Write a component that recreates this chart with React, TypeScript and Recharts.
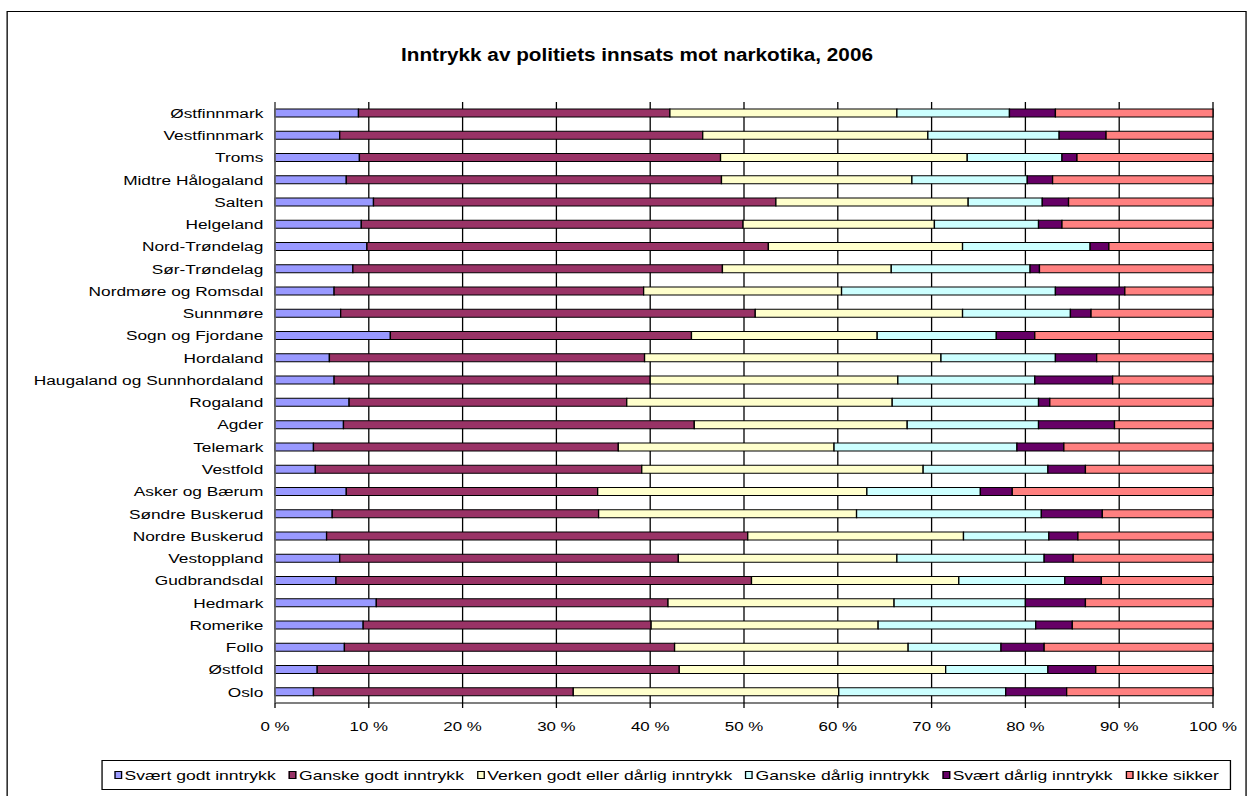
import React from "react"
import {
  BarChart,
  Bar,
  XAxis,
  YAxis,
  CartesianGrid,
} from "recharts"

// the original picture is stretched sideways, so the chart is drawn narrow and scaled
const STRETCH = 1.3
const W = 1257 / STRETCH
const H = 796
const FONT = "'Liberation Sans', Arial, sans-serif"

const regions = [
  "Østfinnmark",
  "Vestfinnmark",
  "Troms",
  "Midtre Hålogaland",
  "Salten",
  "Helgeland",
  "Nord-Trøndelag",
  "Sør-Trøndelag",
  "Nordmøre og Romsdal",
  "Sunnmøre",
  "Sogn og Fjordane",
  "Hordaland",
  "Haugaland og Sunnhordaland",
  "Rogaland",
  "Agder",
  "Telemark",
  "Vestfold",
  "Asker og Bærum",
  "Søndre Buskerud",
  "Nordre Buskerud",
  "Vestoppland",
  "Gudbrandsdal",
  "Hedmark",
  "Romerike",
  "Follo",
  "Østfold",
  "Oslo",
]

const svaertGodt = [8.9, 6.9, 9.0, 7.6, 10.5, 9.2, 9.8, 8.3, 6.3, 7.0, 12.3, 5.8, 6.3, 7.9, 7.3, 4.1, 4.3, 7.6, 6.1, 5.5, 6.9, 6.5, 10.8, 9.4, 7.4, 4.5, 4.1]
const ganskeGodt = [33.2, 38.7, 38.5, 40.0, 42.9, 40.7, 42.8, 39.4, 33.0, 44.2, 32.1, 33.6, 33.7, 29.6, 37.4, 32.5, 34.8, 26.8, 28.4, 44.9, 36.1, 44.3, 31.1, 30.7, 35.2, 38.6, 27.7]
const verken = [24.2, 24.0, 26.3, 20.3, 20.5, 20.4, 20.7, 18.0, 21.1, 22.1, 19.8, 31.6, 26.4, 28.3, 22.7, 23.0, 30.0, 28.7, 27.5, 23.0, 23.3, 22.1, 24.1, 24.2, 24.9, 28.4, 28.3]
const ganskeDaarlig = [12.0, 14.0, 10.1, 12.3, 7.9, 11.1, 13.6, 14.8, 22.8, 11.5, 12.7, 12.2, 14.6, 15.6, 14.0, 19.5, 13.3, 12.1, 19.7, 9.1, 15.7, 11.3, 14.0, 16.8, 9.9, 10.9, 17.8]
const svaertDaarlig = [4.9, 5.0, 1.6, 2.7, 2.8, 2.5, 2.0, 1.0, 7.4, 2.2, 4.1, 4.4, 8.3, 1.2, 8.1, 5.0, 4.0, 3.4, 6.5, 3.1, 3.1, 3.9, 6.4, 3.9, 4.6, 5.1, 6.5]
const ikkeSikker = [16.8, 11.4, 14.5, 17.1, 15.4, 16.1, 11.1, 18.5, 9.4, 13.0, 19.0, 12.4, 10.7, 17.4, 10.5, 15.9, 13.6, 21.4, 11.8, 14.4, 14.9, 11.9, 13.6, 15.0, 18.0, 12.5, 15.6]

const xTicks = [0, 0.1, 0.2, 0.3, 0.4, 0.5, 0.6, 0.7, 0.8, 0.9, 1]

const series = [
  { key: "s1", name: "Svært godt inntrykk", color: "#9999FF", values: svaertGodt },
  { key: "s2", name: "Ganske godt inntrykk", color: "#993366", values: ganskeGodt },
  { key: "s3", name: "Verken godt eller dårlig inntrykk", color: "#FFFFCC", values: verken },
  { key: "s4", name: "Ganske dårlig inntrykk", color: "#CCFFFF", values: ganskeDaarlig },
  { key: "s5", name: "Svært dårlig inntrykk", color: "#660066", values: svaertDaarlig },
  { key: "s6", name: "Ikke sikker", color: "#FF8080", values: ikkeSikker },
]

const data = regions.map((name, i) => {
  const row: Record<string, string | number> = { name }
  series.forEach((s) => {
    row[s.key] = s.values[i]
  })
  return row
})

export default function App() {
  return (
    <div
      style={{
        position: "absolute",
        left: 0,
        top: 0,
        width: 1257,
        height: H,
        overflow: "hidden",
        background: "#fff",
        fontFamily: FONT,
      }}
    >
      <div
        style={{
          position: "absolute",
          left: 0,
          top: 0,
          width: W,
          height: H,
          transform: `scaleX(${STRETCH})`,
          transformOrigin: "0 0",
        }}
      >
        {/* outer frame */}
        <div
          style={{
            position: "absolute",
            left: 5,
            top: 11,
            width: 954,
            height: 800,
            border: "1.5px solid #000",
            boxSizing: "border-box",
          }}
        />

        <div
          style={{
            position: "absolute",
            left: 0,
            top: 46,
            width: 980,
            textAlign: "center",
            fontSize: 18,
            lineHeight: "18px",
            fontWeight: "bold",
            transform: "scaleX(0.885)",
            whiteSpace: "nowrap",
          }}
        >
          Inntrykk av politiets innsats mot narkotika, 2006
        </div>

        <div style={{ position: "absolute", left: 0, top: 0 }}>
          <BarChart
            width={W}
            height={H}
            data={data}
            layout="vertical"
            stackOffset="expand"
            barSize={8}
            margin={{ top: 102, right: W - 1213 / STRETCH, left: 0, bottom: 63 }}
          >
            <CartesianGrid horizontal={false} stroke="#000" />
            <XAxis
              type="number"
              domain={[0, 1]}
              ticks={xTicks}
              tickFormatter={(v: number) => `${Math.round(v * 100)} %`}
              height={30}
              tickSize={5}
              tickMargin={14}
              axisLine={{ stroke: "#000" }}
              tickLine={{ stroke: "#000" }}
              tick={{ fontSize: 13, fill: "#000", fontFamily: FONT }}
            />
            {/* plot area border, top and right */}
            <XAxis
              xAxisId="top"
              orientation="top"
              type="number"
              domain={[0, 1]}
              height={0}
              tick={false}
              tickLine={false}
              axisLine={{ stroke: "#808080" }}
            />
            <YAxis
              type="category"
              dataKey="name"
              width={275 / STRETCH}
              tickSize={0}
              tickMargin={9}
              interval={0}
              tickLine={false}
              axisLine={{ stroke: "#808080" }}
              tick={{ fontSize: 13.3, fill: "#000", fontFamily: FONT }}
            />
            <YAxis
              yAxisId="right"
              orientation="right"
              type="category"
              dataKey="name"
              width={0}
              tick={false}
              tickLine={false}
              axisLine={{ stroke: "#808080" }}
            />
            {series.map((s) => (
              <Bar
                key={s.key}
                dataKey={s.key}
                name={s.name}
                stackId="a"
                fill={s.color}
                stroke="#000"
                strokeWidth={1}
                isAnimationActive={false}
              />
            ))}
          </BarChart>
        </div>

        {/* legend */}
        <div
          style={{
            position: "absolute",
            left: 102 / STRETCH,
            top: 760,
            width: (1231 - 102) / STRETCH,
            height: 30,
            border: "1px solid #000",
            boxSizing: "border-box",
            display: "flex",
            alignItems: "center",
            justifyContent: "center",
            gap: 10,
            fontSize: 13.5,
            whiteSpace: "nowrap",
          }}
        >
          {series.map((s) => (
            <div key={s.key} style={{ display: "flex", alignItems: "center" }}>
              <span
                style={{
                  display: "inline-block",
                  width: 4,
                  height: 6,
                  background: s.color,
                  border: "1px solid #000",
                  marginRight: 2,
                }}
              />
              <span>{s.name}</span>
            </div>
          ))}
        </div>
      </div>
    </div>
  )
}
